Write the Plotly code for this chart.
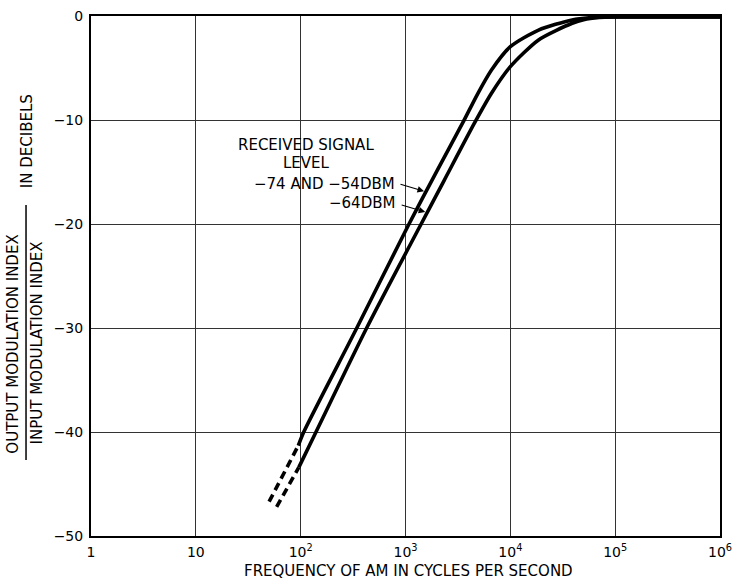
import numpy as np
import plotly.graph_objects as go

# ---- data ----
c1_dash_freq = [50, 95]
c1_dash_db = [-46.7, -41.3]
c1_freq = [95, 107, 343, 1080, 2020, 3520, 4910, 6610, 10000, 18600, 38900, 60000, 100000, 1000000]
c1_db = [-41.3, -40, -30, -20, -14.8, -10.26, -7.43, -5.19, -2.95, -1.35, -0.38, -0.15, -0.1, -0.1]

c2_dash_freq = [59, 96]
c2_dash_db = [-47.2, -43.4]
c2_freq = [96, 140, 426, 1410, 2340, 4570, 6610, 10000, 18600, 38900, 50000, 70000, 100000, 1000000]
c2_db = [-43.4, -40, -30, -20, -15.8, -10.26, -7.43, -4.87, -2.3, -0.7, -0.35, -0.15, -0.1, -0.1]

x_tickvals = [1, 10, 100, 1000, 10000, 100000, 1000000]
x_ticktext = ["1", "10", "10<sup>2</sup>", "10<sup>3</sup>", "10<sup>4</sup>", "10<sup>5</sup>", "10<sup>6</sup>"]
y_tickvals = [0, -10, -20, -30, -40, -50]
y_ticktext = ["0", "−10", "−20", "−30", "−40", "−50"]

label_lines = ["RECEIVED SIGNAL", "LEVEL"]
label_c1 = "−74 AND −54DBM"
label_c2 = "−64DBM"

FONT = "DejaVu Sans"
LW = 3.6

fig = go.Figure()
for fx, fy in [(c1_dash_freq, c1_dash_db), (c2_dash_freq, c2_dash_db)]:
    fig.add_trace(go.Scatter(x=fx, y=fy, mode="lines",
                             line=dict(color="black", width=LW, dash="8px,5px"),
                             hoverinfo="skip"))
for fx, fy in [(c1_freq, c1_db), (c2_freq, c2_db)]:
    fig.add_trace(go.Scatter(x=fx, y=fy, mode="lines",
                             line=dict(color="black", width=LW, shape="spline", smoothing=0.7),
                             hoverinfo="skip"))

fig.update_layout(
    width=732, height=582,
    margin=dict(l=91, r=12, t=16, b=46, autoexpand=False),
    paper_bgcolor="white", plot_bgcolor="white",
    showlegend=False,
    font=dict(family=FONT, size=14, color="black"),
)
fig.update_xaxes(type="log", range=[0, 6], tickvals=x_tickvals, ticktext=x_ticktext,
                 showgrid=True, gridcolor="#333", gridwidth=1,
                 showline=True, mirror=True, linecolor="black", linewidth=2,
                 ticks="", zeroline=False, ticklabelstandoff=2,
                 ticklabeloverflow="allow",
                 tickfont=dict(family=FONT, size=14))
fig.update_yaxes(range=[-50, 0], tickvals=y_tickvals, ticktext=y_ticktext,
                 showgrid=True, gridcolor="#333", gridwidth=1,
                 showline=True, mirror=True, linecolor="black", linewidth=2,
                 ticks="", zeroline=False, ticklabelstandoff=3,
                 ticklabeloverflow="allow",
                 tickfont=dict(family=FONT, size=14))

ann = []
# x-axis title
ann.append(dict(xref="paper", yref="paper", x=0.504, y=-0.067, xanchor="center", yanchor="middle",
                text="FREQUENCY OF AM IN CYCLES PER SECOND", showarrow=False,
                font=dict(family=FONT, size=15)))
# y-axis title as fraction
ann.append(dict(xref="paper", yref="paper", x=-0.124, y=0.368, xanchor="center", yanchor="middle",
                text="OUTPUT MODULATION INDEX", textangle=-90, showarrow=False,
                font=dict(family=FONT, size=15)))
ann.append(dict(xref="paper", yref="paper", x=-0.086, y=0.372, xanchor="center", yanchor="middle",
                text="INPUT MODULATION INDEX", textangle=-90, showarrow=False,
                font=dict(family=FONT, size=15)))
ann.append(dict(xref="paper", yref="paper", x=-0.102, y=0.759, xanchor="center", yanchor="middle",
                text="IN DECIBELS", textangle=-90, showarrow=False,
                font=dict(family=FONT, size=15)))
fig.add_shape(type="line", xref="paper", yref="paper", x0=-0.1033, x1=-0.1033, y0=0.146, y1=0.6365,
              line=dict(color="black", width=1.5))

# curve labels
ann.append(dict(x=2.051, y=-12.4, xanchor="center", yanchor="middle", text=label_lines[0],
                showarrow=False, font=dict(family=FONT, size=15)))
ann.append(dict(x=2.051, y=-14.1, xanchor="center", yanchor="middle", text=label_lines[1],
                showarrow=False, font=dict(family=FONT, size=15)))
ann.append(dict(x=2.92, y=-16.15, xanchor="right", yanchor="middle", text=label_c1,
                showarrow=False, font=dict(family=FONT, size=15)))
ann.append(dict(x=2.92, y=-18.0, xanchor="right", yanchor="middle", text=label_c2,
                showarrow=False, font=dict(family=FONT, size=15)))

# arrows pointing at the curves
tip1_db = -16.9
tip1_x = float(np.interp(tip1_db, c1_db[:6], np.log10(c1_freq[:6])))
tip2_db = -18.9
tip2_x = float(np.interp(tip2_db, c2_db[:6], np.log10(c2_freq[:6])))
for tx, ty, ay in [(tip1_x, tip1_db, -8), (tip2_x, tip2_db, -8)]:
    ann.append(dict(x=tx, y=ty, ax=-27, ay=ay, text="", showarrow=True,
                    arrowhead=2, arrowsize=1.1, arrowwidth=1.2, arrowcolor="black", standoff=2))

fig.update_layout(annotations=ann)
fig.write_html("out.html", config={"displayModeBar": False},
               post_script="document.body.style.margin='0';document.body.style.overflow='hidden';")
